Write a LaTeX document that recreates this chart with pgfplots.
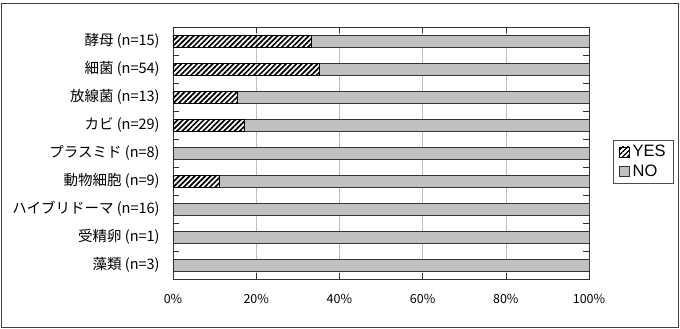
\documentclass[border=0pt]{standalone}
\usepackage{pgfplots}
\pgfplotsset{compat=1.18}
\usetikzlibrary{patterns.meta}
\usepackage{fontspec}
\setmainfont{Noto Sans CJK JP}
\newfontfamily\arial{Liberation Sans}
\definecolor{barg}{RGB}{192,192,192}
\begin{document}
\fontsize{12.5}{15}\selectfont
\begin{tikzpicture}
\useasboundingbox (-173pt,-50pt) rectangle (507pt,279pt);
\draw[black!75, line width=0.8pt] (-172pt,-48pt) rectangle (505pt,276pt);
\begin{axis}[
  at={(0pt,0pt)}, anchor=south west,
  scale only axis, width=416pt, height=252pt,
  xmin=0, xmax=100, ymin=-0.5, ymax=8.5, y dir=reverse,
  xbar stacked, bar width=12pt,
  xtick={0,20,...,100},
  xticklabel={\pgfmathprintnumber{\tick}\%},
  /pgf/number format/assume math mode=true,
  xmajorgrids, major grid style={black!25, line width=0.5pt},
  tick align=inside, major tick length=6pt,
  ytick={0.5,1.5,...,7.5}, yticklabels={},
  extra y ticks={0,1,2,3,4,5,6,7,8},
  extra y tick labels={酵母 (n=15),細菌 (n=54),放線菌 (n=13),カビ (n=29),プラスミド (n=8),動物細胞 (n=9),ハイブリドーマ (n=16),受精卵 (n=1),藻類 (n=3)},
  extra y tick style={major tick length=0pt, grid=none},
  y tick label style={font=\fontsize{14.5}{16}\selectfont, xshift=-9pt},
  x tick label style={font=\fontsize{12.5}{14}\selectfont, yshift=-11pt},
  tick style={black!80, line width=0.6pt},
  axis line style={black!80, line width=0.8pt},
  legend style={at={(1.0577,0.5516)}, anchor=north west, draw=black!70, line width=0.6pt,
    font=\arial\fontsize{16.5}{18}\selectfont, row sep=2pt, inner xsep=5pt, inner ysep=3pt,
    nodes={inner xsep=3pt}},
  legend cell align=left,
]
\addplot[draw=black, line width=0.6pt, pattern={Lines[angle=45,distance=3.7pt,line width=1.7pt]},
  legend image code/.code={\draw[draw=black, pattern={Lines[angle=45,distance=3.5pt,line width=1.3pt]}] (0pt,-5pt) rectangle (10pt,5pt);}]
  coordinates {(33.33,0) (35.19,1) (15.38,2) (17.24,3) (0,4) (11.11,5) (0,6) (0,7) (0,8)};
\addlegendentry{YES}
\addplot[draw=black!80, line width=0.6pt, fill=barg,
  legend image code/.code={\draw[draw=black!80, fill=barg] (0pt,-5pt) rectangle (10pt,5pt);}]
  coordinates {(66.67,0) (64.81,1) (84.62,2) (82.76,3) (100,4) (88.89,5) (100,6) (100,7) (100,8)};
\addlegendentry{NO}
\end{axis}
\end{tikzpicture}
\end{document}
